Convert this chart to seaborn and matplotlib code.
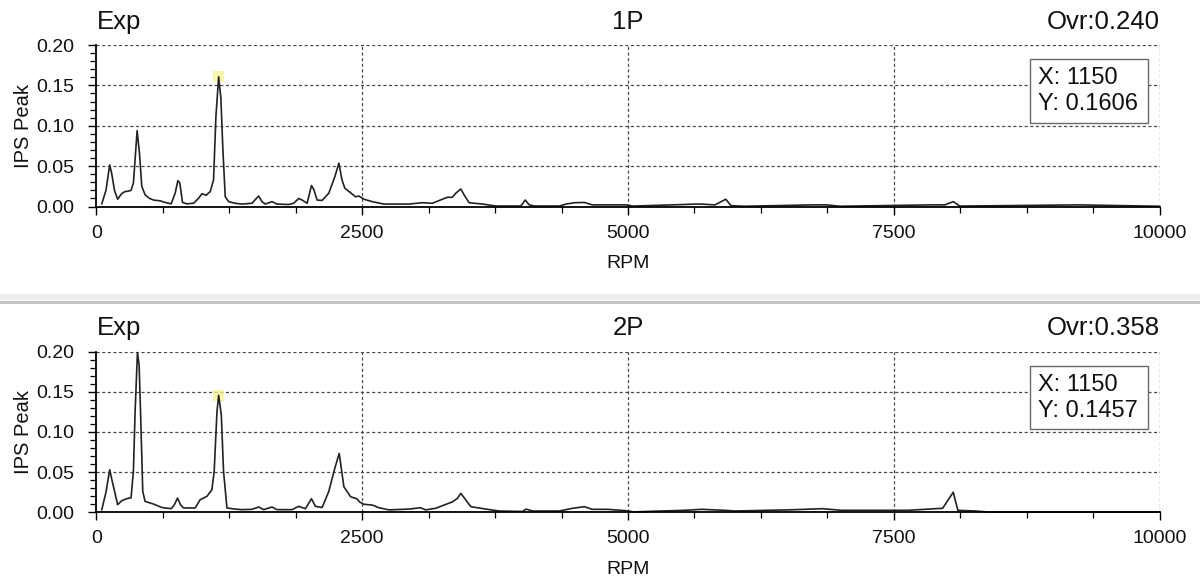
import matplotlib
matplotlib.use("Agg")
import matplotlib.pyplot as plt
from matplotlib.patches import Rectangle
from matplotlib.ticker import MultipleLocator, FormatStrFormatter
from matplotlib.lines import Line2D
import seaborn as sns
import pandas as pd

# ---- spectrum data (RPM vs. IPS peak) ----
rpm_1p = [50, 90, 125, 144, 170, 200, 238, 270, 300, 326, 348, 365, 383, 405, 427, 458,
          500, 537, 600, 647, 703, 741, 766, 785, 810, 851, 914, 960, 992, 1033, 1071,
          1102, 1124, 1150, 1171, 1190, 1212, 1244, 1306, 1369, 1463, 1526, 1558, 1589,
          1652, 1699, 1809, 1856, 1903, 1935, 1982, 2023, 2045, 2076, 2123, 2186, 2243,
          2281, 2310, 2337, 2391, 2438, 2469, 2516, 2595, 2705, 2940, 3066, 3160, 3255,
          3302, 3349, 3380, 3428, 3459, 3506, 3632, 3758, 3993, 4034, 4072, 4120, 4355,
          4417, 4496, 4590, 4665, 4983, 5050, 5534, 5625, 5690, 5818, 5920, 5970, 6100,
          6740, 6864, 7000, 7857, 7980, 8060, 8122, 9240, 10000]
ips_1p = [0.003, 0.020, 0.0515, 0.041, 0.020, 0.009, 0.016, 0.0185, 0.019, 0.020, 0.029,
          0.060, 0.094, 0.066, 0.025, 0.0145, 0.010, 0.008, 0.007, 0.005, 0.0033, 0.0165,
          0.032, 0.029, 0.005, 0.0033, 0.004, 0.010, 0.0157, 0.014, 0.0185, 0.033, 0.111,
          0.1606, 0.134, 0.070, 0.012, 0.006, 0.004, 0.003, 0.004, 0.013, 0.006, 0.003,
          0.006, 0.003, 0.0025, 0.004, 0.010, 0.008, 0.004, 0.026, 0.021, 0.008, 0.0075,
          0.0165, 0.037, 0.0537, 0.033, 0.0226, 0.017, 0.012, 0.013, 0.009, 0.006, 0.003,
          0.003, 0.0047, 0.004, 0.009, 0.0114, 0.0114, 0.0164, 0.0217, 0.0143, 0.0047,
          0.003, 0.0006, 0.0006, 0.008, 0.0019, 0.0006, 0.0006, 0.003, 0.0047, 0.005,
          0.002, 0.002, 0.0005, 0.0025, 0.003, 0.003, 0.002, 0.009, 0.001, 0.0003, 0.002,
          0.002, 0.0003, 0.002, 0.002, 0.006, 0.0005, 0.002, 0.0003]

rpm_2p = [50, 90, 125, 150, 200, 238, 285, 326, 348, 364, 386, 402, 417, 436, 458, 537,
          615, 703, 734, 763, 791, 819, 929, 976, 1039, 1086, 1108, 1134, 1150, 1175,
          1196, 1228, 1306, 1369, 1463, 1526, 1573, 1652, 1699, 1840, 1903, 1966, 2023,
          2060, 2123, 2186, 2243, 2284, 2328, 2391, 2454, 2475, 2516, 2595, 2658, 2752,
          2940, 3050, 3097, 3191, 3270, 3349, 3396, 3428, 3475, 3522, 3663, 3789, 4010,
          4041, 4104, 4355, 4480, 4590, 4665, 4807, 4983, 5050, 5534, 5694, 5907, 6011,
          6313, 6510, 6829, 7006, 7113, 7360, 7640, 7960, 8060, 8103, 8265, 8400, 10000]
ips_2p = [0.003, 0.025, 0.053, 0.038, 0.0095, 0.0144, 0.017, 0.018, 0.051, 0.125, 0.199,
          0.183, 0.117, 0.026, 0.0136, 0.0103, 0.006, 0.0045, 0.0095, 0.0177, 0.0095,
          0.0054, 0.0054, 0.0157, 0.0198, 0.028, 0.051, 0.125, 0.1457, 0.121, 0.051,
          0.0054, 0.004, 0.0033, 0.0037, 0.0066, 0.0033, 0.0066, 0.0033, 0.0033, 0.0074,
          0.0045, 0.0169, 0.0074, 0.006, 0.026, 0.055, 0.0733, 0.0318, 0.0194, 0.0165,
          0.013, 0.010, 0.009, 0.0057, 0.003, 0.004, 0.0057, 0.003, 0.005, 0.009, 0.013,
          0.0174, 0.0236, 0.0153, 0.007, 0.004, 0.0016, 0.001, 0.004, 0.0016, 0.0016,
          0.005, 0.007, 0.0037, 0.0037, 0.002, 0.0005, 0.0025, 0.0037, 0.0025, 0.0016,
          0.0025, 0.003, 0.0045, 0.0025, 0.0025, 0.0025, 0.0025, 0.005, 0.025, 0.0025,
          0.0016, 0.0003, 0.0003]

panels = ["1P", "2P"]
overall = ["Ovr:0.240", "Ovr:0.358"]
cursor_rpm = [1150, 1150]
cursor_ips = [0.1606, 0.1457]
x_ticks = [0, 2500, 5000, 7500, 10000]
y_ticks = [0.00, 0.05, 0.10, 0.15, 0.20]

sns.set_theme(style="white")
plt.rcParams["font.family"] = ["Liberation Sans", "DejaVu Sans"]

fig = plt.figure(figsize=(12, 5.78), dpi=100)
fig.patch.set_facecolor("white")

W, H = 1200.0, 578.0
left_px, right_px = 96.4, 1159.5
ax_rects = [(45.0, 206.5), (351.7, 512.3)]  # (top, bottom) pixel rows

series = [(rpm_1p, ips_1p), (rpm_2p, ips_2p)]

for i, (top_px, bot_px) in enumerate(ax_rects):
    ax = fig.add_axes([left_px / W, 1 - bot_px / H,
                       (right_px - left_px) / W, (bot_px - top_px) / H])
    rpm, ips = series[i]
    df = pd.DataFrame({"RPM": rpm, "IPS Peak": ips})

    # cursor highlight at the selected peak
    ax.scatter([cursor_rpm[i]], [cursor_ips[i]], s=60, marker="s",
               color="#f4f28c", alpha=0.75, edgecolors="none", zorder=2)
    sns.lineplot(data=df, x="RPM", y="IPS Peak", ax=ax, color="#222222",
                 lw=1.2, zorder=3, clip_on=False)

    ax.set_xlim(0, 10000)
    ax.set_ylim(0, 0.20)
    ax.set_xticks(x_ticks)
    ax.set_yticks(y_ticks)
    ax.xaxis.set_minor_locator(MultipleLocator(625))
    ax.yaxis.set_minor_locator(MultipleLocator(0.01))
    ax.yaxis.set_major_formatter(FormatStrFormatter("%.2f"))
    ax.set_xticklabels([str(t) for t in x_ticks])

    # dashed grid that also closes the plot area on top and right
    for yv in y_ticks[1:]:
        ax.axhline(yv, color="#4a4a4a", lw=0.9, ls=(0, (2.5, 2.0)), zorder=1)
    for xv in x_ticks[1:]:
        ax.axvline(xv, color="#4a4a4a", lw=0.9, ls=(0, (2.5, 2.0)), zorder=1)

    for s in ["top", "right"]:
        ax.spines[s].set_visible(False)
    for s in ["left", "bottom"]:
        ax.spines[s].set_color("black")
        ax.spines[s].set_linewidth(1.3)
        ax.spines[s].set_zorder(4)

    ax.tick_params(axis="both", which="major", direction="out", length=6,
                   width=1.0, color="black", labelsize=14, labelcolor="#111111",
                   left=True, bottom=True)
    ax.tick_params(axis="both", which="minor", direction="out", length=4,
                   width=0.9, color="black", left=True, bottom=True)
    ax.tick_params(axis="x", which="major", pad=7)
    ax.tick_params(axis="y", which="major", pad=10)

    ax.set_xlabel("RPM", fontsize=14, color="#111111", labelpad=10)
    ax.set_ylabel("IPS Peak", fontsize=14.5, color="#111111", labelpad=2)
    ax.set_facecolor("white")

    # panel header
    ax.text(0.0, 1.145, "Exp", transform=ax.transAxes, fontsize=18.5,
            ha="left", va="center", color="#111111")
    ax.text(0.5, 1.145, panels[i], transform=ax.transAxes, fontsize=18.5,
            ha="center", va="center", color="#111111")
    ax.text(1.0, 1.145, overall[i], transform=ax.transAxes, fontsize=18.5,
            ha="right", va="center", color="#111111")

    # cursor readout box
    bx0, bx1, by0, by1 = 0.878, 0.989, 0.517, 0.913
    ax.add_patch(Rectangle((bx0, by0), bx1 - bx0, by1 - by0, transform=ax.transAxes,
                           facecolor="white", edgecolor="#6a6a6a", lw=1.0,
                           zorder=5, clip_on=False))
    ax.text(bx0 + 0.008, by0 + 0.70 * (by1 - by0), f"X: {cursor_rpm[i]}",
            transform=ax.transAxes, fontsize=17, ha="left", va="center",
            color="#111111", zorder=6)
    ax.text(bx0 + 0.008, by0 + 0.29 * (by1 - by0), f"Y: {cursor_ips[i]:.4f}",
            transform=ax.transAxes, fontsize=17, ha="left", va="center",
            color="#111111", zorder=6)

# separator between the two panels
fig.add_artist(Line2D([0, 1], [1 - 297.0 / H] * 2, transform=fig.transFigure,
                      color="#ededed", lw=4))
fig.add_artist(Line2D([0, 1], [1 - 301.5 / H] * 2, transform=fig.transFigure,
                      color="#c4c4c4", lw=2.2))

fig.savefig("out.png", dpi=100, facecolor="white")
